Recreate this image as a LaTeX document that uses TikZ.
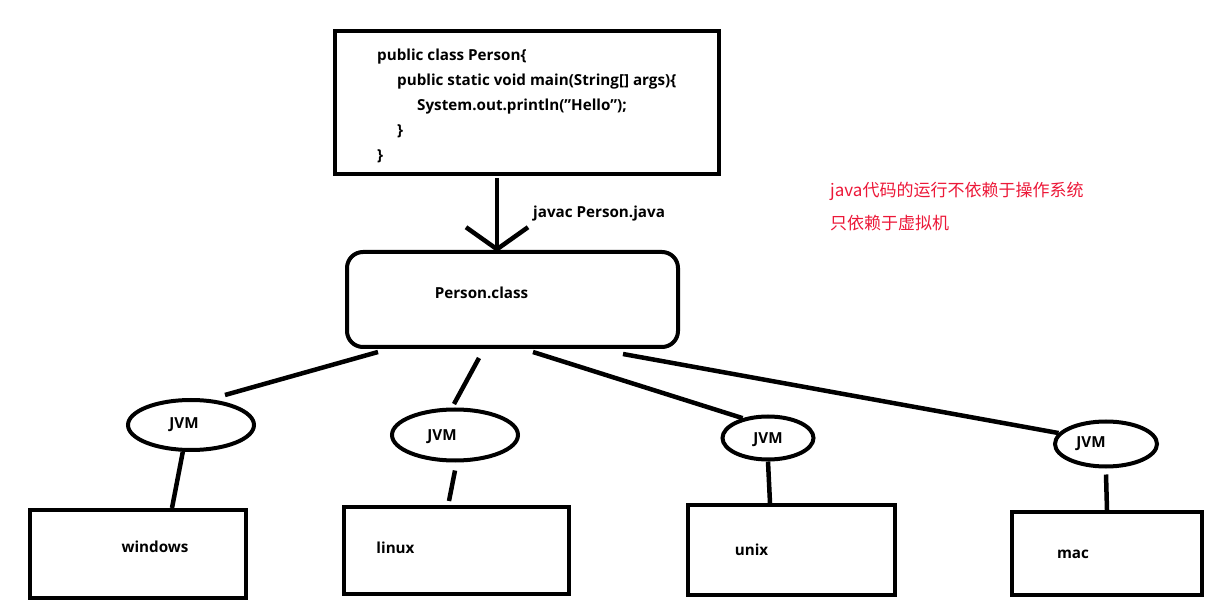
\documentclass[tikz,border=0pt]{standalone}
\usepackage{fontspec}
\setmainfont{Open Sans}
\newfontfamily\cjk{Noto Sans CJK SC}
\usetikzlibrary{shapes.geometric,arrows.meta,positioning}
\definecolor{notered}{RGB}{236,24,56}

\tikzset{
  boxline/.style={draw=black, line width=4pt},
  codebox/.style={boxline, rectangle, minimum width=384pt, minimum height=143pt, inner sep=0pt},
  clsbox/.style={boxline, rectangle, rounded corners=16pt, minimum width=331pt, minimum height=95pt, inner sep=0pt},
  vmnode/.style={boxline, ellipse, inner sep=0pt},
  osbox/.style={boxline, rectangle, inner sep=0pt},
  link/.style={black, line width=4.5pt},
  txt/.style={font=\fontsize{15.2}{25}\selectfont\bfseries, inner sep=0pt}
}

\begin{document}
\begin{tikzpicture}[x=1pt,y=-1pt]
\useasboundingbox (0,0) rectangle (1232,601);

% source file and compiled class
\node[codebox] (code) at (527,102.5) {};
\node[txt, anchor=west, align=left] (src) at (377,106) {public class Person\{\\
\hspace*{20pt}public static void main(String[] args)\{\\
\hspace*{40pt}System.out.println(\symbol{34}Hello\symbol{34});\\
\hspace*{20pt}\}\\
\}};
\node[clsbox, label={[txt, xshift=-31pt, yshift=7pt]center:Person.class}] (cls) at (512.5,299.5) {};

\draw[link, -{Straight Barb[length=22pt,width=62pt]}] ([xshift=-30pt,yshift=-2pt]code.south) -- ([xshift=-15.5pt,yshift=-2pt]cls.north);
\node[txt, anchor=west] (javac) at (533,214) {javac Person.java};

% one JVM per system
\node[vmnode, minimum width=126pt, minimum height=50pt, label={[txt, xshift=-7pt]center:JVM}] (jvm1) at (191,425) {};
\node[vmnode, minimum width=126pt, minimum height=51pt, label={[txt, xshift=-13pt, yshift=-2pt]center:JVM}] (jvm2) at (455,435) {};
\node[vmnode, minimum width=91pt, minimum height=43pt, label={[txt, yshift=-2pt]center:JVM}] (jvm3) at (768,438) {};
\node[vmnode, minimum width=102pt, minimum height=45pt, label={[txt, xshift=-15pt]center:JVM}] (jvm4) at (1106,444) {};

\node[osbox, minimum width=216pt, minimum height=88pt, label={[txt, xshift=17pt, yshift=7pt]center:windows}] (win) at (138,554) {};
\node[osbox, minimum width=225pt, minimum height=87pt, label={[txt, xshift=-61pt, yshift=3pt]center:linux}] (linux) at (456.5,550.5) {};
\node[osbox, minimum width=207pt, minimum height=90pt, label={[txt, xshift=-40pt, yshift=0pt]center:unix}] (unix) at (791.5,550) {};
\node[osbox, minimum width=190pt, minimum height=83pt, label={[txt, xshift=-34pt, yshift=-1pt]center:mac}] (mac) at (1107,553.5) {};

% connectors
\draw[link] ([xshift=-134.5pt,yshift=-3pt]cls.south) -- ([xshift=34pt,yshift=30pt]jvm1.center);
\draw[link] ([xshift=-33.5pt,yshift=-9pt]cls.south) -- ([xshift=-1pt,yshift=31pt]jvm2.center);
\draw[link] ([xshift=20.5pt,yshift=-3pt]cls.south) -- (jvm3.142);
\draw[link] ([xshift=110.5pt,yshift=-5pt]cls.south) -- (jvm4.167);

\draw[link] (jvm1.-107) -- ([xshift=34pt]win.north);
\draw[link] ([yshift=-8pt]jvm2.south) -- ([xshift=-7.5pt,yshift=4pt]linux.north);
\draw[link] (jvm3.south) -- ([xshift=-21.5pt]unix.north);
\draw[link] ([yshift=-6pt]jvm4.south) -- (mac.north);

% note
\node[font=\cjk\fontsize{17}{33}\selectfont, text=notered, anchor=north west, align=left, inner sep=0pt] (note) at (830,182) {java代码的运行不依赖于操作系统\\只依赖于虚拟机};
\end{tikzpicture}
\end{document}
